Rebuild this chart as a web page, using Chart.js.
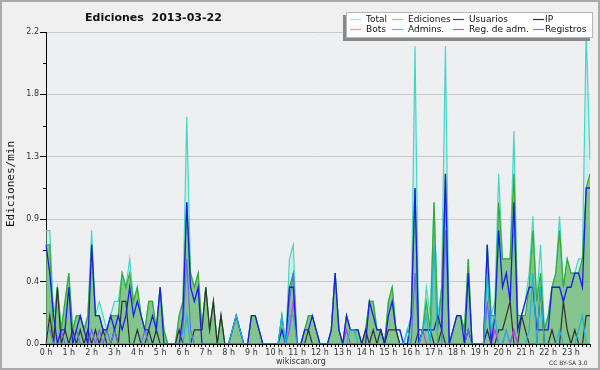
<!DOCTYPE html>
<html lang="es">
<head>
<meta charset="UTF-8">
<title>Ediciones 2013-03-22</title>
<style>
  body { margin: 0; background: #fff; }
  canvas { display: block; }
</style>
</head>
<body>
<canvas id="myChart" width="600" height="370"></canvas>
<script src="https://cdn.jsdelivr.net/npm/chart.js"></script>
<script>
// one value per 10 minutes, 144 bins (edits per minute)
const hourLabels = ['0 h','1 h','2 h','3 h','4 h','5 h','6 h','7 h','8 h','9 h','10 h','11 h',
  '12 h','13 h','14 h','15 h','16 h','17 h','18 h','19 h','20 h','21 h','22 h','23 h'];
const yTicks = [0, 0.22, 0.44, 0.66, 0.88, 1.1, 1.32, 1.54, 1.76, 1.98, 2.2];

const total = [
  .8,.8,.2,.4,.1,.3,  .5,.1,.2,.2,.1,.2,  .8,.2,.3,.2,.1,.2,  .3,.3,.5,.4,.6,.3,
  .4,.2,.1,.3,.3,.1,  .4,.1,0,0,0,.2,     .3,1.6,.5,.4,.5,.1, .4,.1,.3,0,.2,0,
  0,.1,.2,.1,0,0,     .2,.2,.1,0,0,0,     0,0,.2,0,.6,.7,     0,0,.1,.2,.2,.1,
  0,0,0,.1,.5,.1,     0,.2,.1,.1,.1,0,    .1,.3,.3,.1,.1,0,   .3,.4,.1,.1,0,.1,
  .2,2.1,0,.1,.4,.2,  1.0,.2,.4,2.1,0,.1, .2,.2,.1,.6,0,0,    0,0,.7,.2,.3,1.2,
  .6,.6,.6,1.5,.2,.2, .3,.5,.9,.3,.7,.1,  .2,.4,.5,.9,.4,.6,  .5,.5,.6,.6,2.2,1.3
];
const ediciones = [
  .7,.7,0,.4,.1,.3,   .5,.1,.2,.2,.1,.2,  .7,.2,.2,.1,.1,.2,  .2,.2,.5,.4,.5,.3,
  .4,.2,.1,.3,.3,.1,  .4,.1,0,0,0,.2,     .3,1.0,.5,.4,.5,.1, .4,.1,.3,0,.2,0,
  0,.1,.2,.1,0,0,     .2,.2,.1,0,0,0,     0,0,.2,0,.4,.5,     0,0,.1,.2,.2,.1,
  0,0,0,.1,.5,.1,     0,.2,.1,.1,.1,0,    .1,.3,.3,.1,.1,0,   .3,.4,.1,0,0,0,
  .2,1.1,0,.1,.3,.1,  1.0,.1,.4,1.2,0,.1, .2,.2,.1,.6,0,0,    0,0,.7,.2,.2,1.0,
  .6,.6,.6,1.2,.2,.2, .2,.4,.8,.3,.5,.1,  .2,.4,.5,.8,.4,.6,  .5,.5,.5,.6,1.1,1.2
];
const usuarios = [
  .7,.5,.2,0,.1,.1,   .4,0,.1,.2,.1,0,    .7,.2,.2,.1,.1,.2,  .1,.2,.1,.2,.4,.2,
  .3,.2,.1,.1,.2,.1,  .4,0,0,0,0,0,       .2,1.0,.4,.3,.4,0,  0,0,0,0,0,0,
  0,.1,.2,.1,0,0,     .2,.2,.1,0,0,0,     0,0,.1,0,.4,.4,     0,0,.1,.1,.2,.1,
  0,0,0,.1,.5,.1,     0,.2,.1,.1,.1,0,    0,.3,.2,.1,.1,0,    .2,.3,.1,.1,0,0,
  .2,1.1,0,.1,.1,.1,  .1,.2,.1,1.2,0,.1,  .2,.2,0,.5,0,0,     0,0,.7,0,.2,.8,
  .4,.5,.3,1.0,.1,.2, .3,.4,.4,.1,.1,.1,  .1,.4,.4,.4,.3,.4,  .4,.5,.5,.4,1.1,1.1
];
const ip = [
  0,.2,0,.4,0,.1,     0,.1,0,.1,0,.1,     0,.1,0,.1,0,0,      .1,0,.3,.3,0,0,
  .1,0,0,.1,0,.1,     0,0,0,0,0,.1,       0,0,0,.1,.1,.1,     .4,.1,.3,0,.2,0,
  0,0,0,0,0,0,        0,0,0,0,0,0,        0,0,0,0,0,0,        0,0,0,.1,0,0,
  0,0,0,0,0,0,        0,0,0,0,0,0,        .1,0,.1,0,.1,0,     .1,.1,.1,0,0,0,
  0,0,.1,.1,.1,.1,    0,0,.1,0,0,0,       0,0,0,.1,0,0,       0,0,.1,0,0,.1,
  .1,.2,.3,0,0,.2,    .1,0,0,0,.4,0,      0,.1,0,0,.3,.1,     0,.1,0,0,.2,.2
];
const bots = [
  0,0,0,0,0,0, 0,0,0,0,0,0, 0,0,0,0,0,0, 0,0,0,0,0,0,
  0,0,0,0,0,0, 0,0,0,0,0,0, 0,0,0,0,0,0, 0,0,0,0,0,0,
  0,0,0,0,0,0, 0,0,0,0,0,0, 0,0,0,0,0,0, 0,0,0,0,0,0,
  0,0,0,0,0,0, 0,0,0,0,0,0, 0,0,0,0,0,0, 0,0,0,0,0,0,
  0,0,0,0,0,0, 0,0,0,0,0,0, 0,0,0,0,0,0, 0,0,0,0,0,0,
  0,0,0,0,0,0, 0,0,0,0,0,0, 0,0,0,0,0,0, 0,0,0,0,0,0
];
const admins = [
  0,0,0,0,0,0,        0,0,0,0,0,0,        0,0,0,0,0,0,        0,0,0,0,0,0,
  0,0,0,0,0,0,        0,0,0,0,0,0,        0,.2,0,0,0,0,       0,0,0,0,0,0,
  0,.1,.2,.1,0,0,     0,0,0,0,0,0,        0,0,.2,0,.2,.2,     0,0,0,0,0,0,
  0,0,0,0,0,0,        0,0,.1,.1,0,0,      0,0,0,0,0,0,        0,0,0,0,0,.1,
  0,0,0,.1,.2,0,      .7,0,0,0,0,0,       0,0,0,0,0,0,        0,0,.5,.1,.2,0,
  0,.1,0,0,0,0,       0,.1,.5,0,.4,0,     0,0,0,.1,0,0,       0,0,.1,.2,0,0
];
const regAdm = [
  0,0,0,0,0,0, 0,0,0,0,0,0, 0,0,0,0,0,0, 0,0,0,0,0,0,
  0,0,0,0,0,0, 0,0,0,0,0,0, 0,0,0,0,0,0, 0,0,0,0,0,0,
  0,0,0,0,0,0, 0,0,0,0,0,0, 0,0,0,0,.1,.3, 0,0,0,0,0,0,
  0,0,0,0,0,0, 0,.1,0,0,0,0, 0,0,0,0,0,0, 0,0,0,0,0,0,
  0,0,0,.1,0,0, 0,0,0,0,0,0, 0,0,0,0,0,0, 0,0,0,0,.1,0,
  0,.1,0,.1,0,0, 0,0,0,0,0,0, 0,0,0,0,0,0, 0,0,0,0,0,0
];
const registros = [
  .1,.1,0,0,.1,0,     0,0,.1,0,0,0,       .1,0,.1,0,.1,0,     .1,0,0,0,0,0,
  0,0,.1,0,0,0,       0,0,0,0,0,0,        .1,.6,.1,0,0,0,     0,0,0,0,0,0,
  0,0,0,0,0,0,        0,0,0,0,0,0,        0,0,0,0,.3,.5,      0,0,0,0,0,0,
  0,0,0,0,0,0,        0,0,0,0,0,0,        0,0,0,0,0,0,        0,0,0,0,0,0,
  0,.5,0,0,0,0,       0,0,0,.8,0,0,       0,0,0,.1,0,0,       0,0,.3,0,0,0,
  0,0,0,.1,0,0,       0,0,0,0,0,0,        0,0,0,0,0,0,        0,0,0,0,0,0
];

const times = [];
for (let i = 0; i < 144; i++) {
  times.push(String(Math.floor(i / 6)).padStart(2, '0') + ':' + String((i % 6) * 10).padStart(2, '0'));
}

const legendItems = [
  ['Total', '#a8e6de'], ['Ediciones', '#8fcf8f'], ['Usuarios', '#3434e0'], ['IP', '#303030'],
  ['Bots', '#f4a640'], ['Admins.', '#3cc8dc'], ['Reg. de adm.', '#c850e4'], ['Registros', '#7a7af2']
];

const decor = {
  id: 'decor',
  beforeDraw(chart) {
    const c = chart.ctx, a = chart.chartArea;
    c.save();
    c.fillStyle = '#f0f0f0';
    c.fillRect(0, 0, chart.width, chart.height);
    c.fillStyle = '#eeeff1';
    c.fillRect(a.left, a.top, a.right - a.left, a.bottom - a.top);
    c.strokeStyle = '#aaaaaa';
    c.lineWidth = 2;
    c.strokeRect(1, 1, chart.width - 2, chart.height - 2);
    c.restore();
  },
  afterDraw(chart) {
    const c = chart.ctx, ys = chart.scales.y, a = chart.chartArea;
    c.save();
    // short minor ticks on the y axis
    c.strokeStyle = '#000';
    c.lineWidth = 1;
    yTicks.forEach((v, i) => {
      if (i % 2 === 1) {
        const py = Math.round(ys.getPixelForValue(v)) + 0.5;
        c.beginPath();
        c.moveTo(a.left - 3, py);
        c.lineTo(a.left, py);
        c.stroke();
      }
    });
    // title
    c.fillStyle = '#111';
    c.font = 'bold 11px "DejaVu Sans"';
    c.textBaseline = 'alphabetic';
    c.fillText('Ediciones  2013-03-22', 85, 21);
    // y title
    c.save();
    c.translate(14, 184);
    c.rotate(-Math.PI / 2);
    c.textAlign = 'center';
    c.font = '11px "DejaVu Sans Mono"';
    c.fillStyle = '#111';
    c.fillText('Ediciones/min', 0, 0);
    c.restore();
    // legend box
    c.fillStyle = '#888';
    c.fillRect(343, 15, 247, 26);
    c.fillStyle = '#fff';
    c.fillRect(346, 12, 247, 26);
    c.strokeStyle = '#b8b8b8';
    c.lineWidth = 1;
    c.strokeRect(346.5, 12.5, 246, 25);
    const swX = [350, 392, 453, 533], txX = [366, 408, 469, 545];
    c.font = '9px "DejaVu Sans"';
    c.textBaseline = 'middle';
    legendItems.forEach((it, k) => {
      const col = k % 4, y = k < 4 ? 19.5 : 29.5;
      c.strokeStyle = it[1];
      c.lineWidth = 1.2;
      c.beginPath();
      c.moveTo(swX[col], y);
      c.lineTo(swX[col] + 11, y);
      c.stroke();
      c.fillStyle = '#111';
      c.fillText(it[0], txX[col], y);
    });
    // footer
    c.textBaseline = 'alphabetic';
    c.fillStyle = '#333';
    c.font = '8px "DejaVu Sans"';
    c.fillText('wikiscan.org', 276, 364);
    c.font = '6px "DejaVu Sans"';
    c.fillText('CC BY-SA 3.0', 549, 365);
    c.restore();
  }
};

const tickFont = { family: 'DejaVu Sans', size: 8 };

const ctx = document.getElementById('myChart').getContext('2d');
const myChart = new Chart(ctx, {
  type: 'line',
  data: {
    labels: times,
    datasets: [
      { label: 'Total', data: total, borderColor: '#45d6c6', backgroundColor: 'rgba(170,236,228,0.45)',
        fill: 'origin', borderWidth: 1.2, order: 8 },
      { label: 'Ediciones', data: ediciones, borderColor: '#34ac34', backgroundColor: 'rgba(90,175,90,0.65)',
        fill: 'origin', borderWidth: 1.2, order: 7 },
      { label: 'Bots', data: bots, borderColor: '#f4a640', borderWidth: 1, order: 6 },
      { label: 'IP', data: ip, borderColor: '#303030', borderWidth: 1.2, order: 5 },
      { label: 'Registros', data: registros, borderColor: '#6a6af6', borderWidth: 1.2, order: 4 },
      { label: 'Reg. de adm.', data: regAdm, borderColor: '#c838e8', borderWidth: 1.2, order: 3 },
      { label: 'Usuarios', data: usuarios, borderColor: '#1c1ce8', borderWidth: 1.3, order: 2 },
      { label: 'Admins.', data: admins, borderColor: '#20b4e0', borderWidth: 1.2, order: 1 }
    ]
  },
  options: {
    responsive: false,
    animation: false,
    layout: { padding: { top: 32, right: 10, left: 0, bottom: 0 } },
    plugins: { legend: { display: false }, tooltip: { enabled: false } },
    elements: { point: { radius: 0 }, line: { tension: 0 } },
    scales: {
      x: {
        type: 'category',
        offset: false,
        z: 1,
        grid: { drawOnChartArea: false, tickLength: 3, tickColor: '#000' },
        border: { color: '#000' },
        ticks: {
          autoSkip: false, maxRotation: 0, minRotation: 0, padding: 1,
          color: '#333', font: tickFont,
          callback: (v, i) => i % 6 === 0 ? hourLabels[i / 6] : ''
        },
        afterFit: s => { s.height = 26; }
      },
      y: {
        min: 0, max: 2.2,
        afterBuildTicks: s => { s.ticks = yTicks.map(v => ({ value: v })); },
        grid: {
          color: c => c.index % 2 === 0 ? '#c9c9c9' : 'rgba(0,0,0,0)',
          tickColor: c => c.index % 2 === 0 ? '#000' : 'rgba(0,0,0,0)',
          tickLength: 6
        },
        border: { color: '#000' },
        ticks: {
          padding: 1, color: '#333', font: tickFont,
          callback: (v, i) => i % 2 === 0 ? v.toFixed(1) : ''
        },
        afterFit: s => { s.width = 46; }
      }
    }
  },
  plugins: [decor]
});
</script>
</body>
</html>
